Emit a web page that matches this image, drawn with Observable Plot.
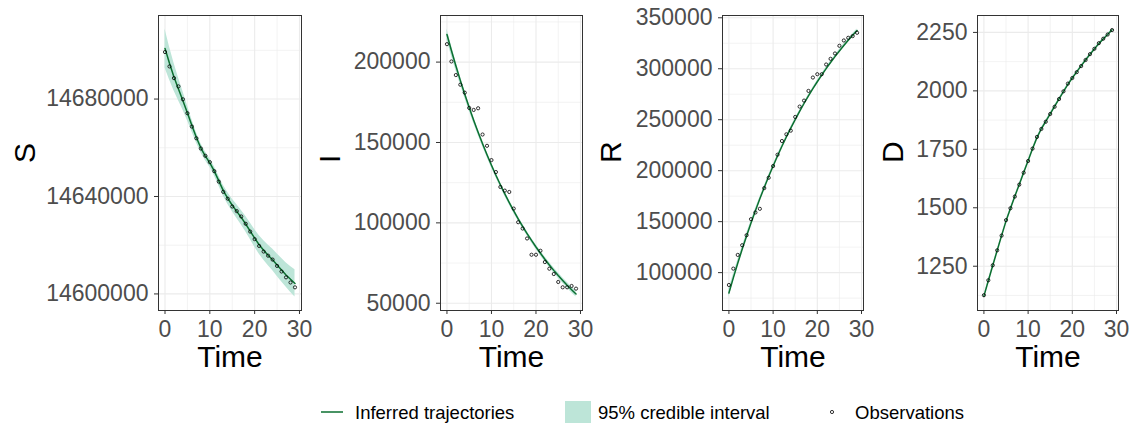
<!DOCTYPE html>
<html><head><meta charset="utf-8">
<script src="https://cdn.jsdelivr.net/npm/d3@7"></script>
<script src="https://cdn.jsdelivr.net/npm/@observablehq/plot@0.6"></script>
<style>
body{margin:0;background:#fff;font-family:"Liberation Sans",Arial,sans-serif;}
#chart{position:relative;width:1131px;height:423px;overflow:hidden;background:#fff;}
.panel{position:absolute;top:0;}
</style></head><body><div id="chart"></div>
<script>
// ---------- data ----------
const time = [0,1,2,3,4,5,6,7,8,9,10,11,12,13,14,15,16,17,18,19,20,21,22,23,24,25,26,27,28,29];
const xTicks = [0,10,20,30];
const xMinor = [5,15,25];

const S_obs  = [14699300,14693400,14688600,14685200,14679900,14674200,14668700,14663900,14659700,14656700,14654100,14650400,14646100,14641900,14639100,14635900,14634000,14631800,14628800,14625600,14622500,14619700,14617400,14615700,14614100,14611500,14609200,14606800,14604700,14602700];
const S_mean = [14700800,14694700,14689100,14684100,14679300,14674300,14669100,14664200,14659900,14656600,14653800,14650400,14646400,14642400,14639200,14636400,14633900,14631400,14628700,14625800,14622900,14620200,14617900,14615900,14614000,14611900,14609800,14607800,14606000,14604300];
const S_hi   = [14708800,14701500,14694800,14688800,14683100,14677400,14671600,14666300,14661800,14658400,14655600,14652300,14648400,14644600,14641600,14639000,14636700,14634400,14631900,14629200,14626500,14624000,14621900,14620100,14618400,14616500,14614600,14612800,14611300,14609900];
const S_lo   = [14692800,14687900,14683400,14679400,14675500,14671200,14666600,14662100,14658000,14654800,14652000,14648500,14644400,14640200,14636800,14633800,14631100,14628400,14625500,14622400,14619300,14616400,14613900,14611700,14609600,14607300,14605000,14602800,14600700,14598700];
const S_ticks = [14600000,14640000,14680000];
const S_minor = [14620000,14660000,14700000];

const I_obs  = [211160,200400,191940,185950,180990,171490,170250,171280,154960,147930,139050,131610,122320,120050,119220,108890,100400,96490,90290,80170,80170,82650,75620,71490,68190,63230,59920,59920,60740,59090];
const I_mean = [217150,207200,197700,188650,180000,171760,163890,156380,149210,142380,135850,129630,123690,118020,112610,107450,102530,97830,93350,89070,84990,81100,77380,73840,70450,67220,64150,61210,58400,55730];
const I_hi   = [220650,210400,200600,191250,182400,173960,165890,158180,150910,143980,137350,131030,125090,119420,114010,108850,103930,99230,94750,90470,86390,82600,78880,75440,72050,68920,65850,63010,60200,57630];
const I_lo   = [213650,204000,194800,186050,177600,169560,161890,154580,147510,140780,134350,128230,122290,116620,111210,106050,101130,96430,91950,87670,83590,79600,75880,72240,68850,65520,62450,59410,56600,53830];
const I_ticks = [50000,100000,150000,200000];
const I_minor = [75000,125000,175000,225000];

const R_obs  = [87880,103930,117370,126870,136700,152430,158990,162590,182910,193070,204540,215680,229110,235670,239280,252710,262870,268770,278270,291380,294650,294650,304160,309730,314970,322510,327750,330370,332010,335290];
const R_mean = [80000,94880,109160,122870,136020,148650,160770,172400,183570,194280,204570,214450,223920,233020,241750,250130,258170,265900,273310,280420,287250,293800,300090,306130,311920,317480,322820,327940,332860,337580];
const R_hi   = [84000,98380,112160,125470,138320,150650,162570,174000,185070,195680,205870,215750,225120,234220,242950,251330,259370,267100,274510,281720,288550,295100,301390,307530,313320,318880,324220,329440,334360,339080];
const R_lo   = [76000,91380,106160,120270,133720,146650,158970,170800,182070,192880,203270,213150,222720,231820,240550,248930,256970,264700,272110,279120,285950,292500,298790,304730,310520,316080,321420,326440,331360,336080];
const R_ticks = [100000,150000,200000,250000,300000,350000];
const R_minor = [75000,125000,175000,225000,275000,325000];

const D_obs  = [1126,1190,1254,1318,1381,1447,1498,1548,1599,1650,1700,1753,1803,1837,1868,1901,1932,1965,1998,2031,2055,2080,2106,2132,2157,2180,2204,2223,2241,2260];
const D_mean = [1122,1188,1253,1317,1381,1443,1497,1549,1600,1651,1701,1752,1800,1838,1870,1902,1934,1966,1997,2028,2055,2081,2107,2132,2156,2179,2202,2222,2241,2261];
const D_hi   = [1126,1192,1257,1321,1385,1447,1501,1553,1604,1655,1705,1756,1804,1842,1874,1906,1938,1970,2001,2032,2059,2085,2111,2136,2160,2183,2206,2226,2245,2265];
const D_lo   = [1118,1184,1249,1313,1377,1439,1493,1545,1596,1647,1697,1748,1796,1834,1866,1898,1930,1962,1993,2024,2051,2077,2103,2128,2152,2175,2198,2218,2237,2257];
const D_ticks = [1250,1500,1750,2000,2250];
const D_minor = [1125,1375,1625,1875,2125];

const legendLabels = ["Inferred trajectories","95% credible interval","Observations"];

// ---------- style ----------
const LINE = "#0b6f30";
const RIBBON = "#bde5d8";
const FONT = "'Liberation Sans', Arial, Helvetica, sans-serif";

function expand([a, b], f = 0.05) { const d = (b - a) * f; return [a - d, b + d]; }

function panel(cfg) {
  const rows = time.map((t, i) => ({t, obs: cfg.obs[i], mean: cfg.mean[i], lo: cfg.lo[i], hi: cfg.hi[i]}));
  const yDomain = expand(d3.extent([...cfg.obs, ...cfg.mean, ...cfg.lo, ...cfg.hi]));
  const xDomain = expand(d3.extent(time));
  const axisOpts = {tickSize: 4, tickPadding: 6, fontSize: 23, stroke: "#333333", fill: "#4d4d4d", label: null, tickFormat: d => String(d)};
  const p = Plot.plot({
    width: cfg.width, height: 380,
    marginLeft: cfg.marginLeft, marginRight: cfg.marginRight, marginTop: 15, marginBottom: 70,
    x: {domain: xDomain, axis: null},
    y: {domain: yDomain, axis: null},
    style: {fontFamily: FONT, background: "transparent", overflow: "visible"},
    marks: [
      Plot.gridX({ticks: xMinor, stroke: "#ebebeb", strokeOpacity: 1, strokeWidth: 0.6}),
      Plot.gridY({ticks: cfg.minor, stroke: "#ebebeb", strokeOpacity: 1, strokeWidth: 0.6}),
      Plot.gridX({ticks: xTicks, stroke: "#ebebeb", strokeOpacity: 1, strokeWidth: 1.1}),
      Plot.gridY({ticks: cfg.ticks, stroke: "#ebebeb", strokeOpacity: 1, strokeWidth: 1.1}),
      Plot.areaY(rows, {x: "t", y1: "lo", y2: "hi", fill: RIBBON}),
      Plot.lineY(rows, {x: "t", y: "mean", stroke: LINE, strokeWidth: 1.5}),
      Plot.dot(rows, {x: "t", y: "obs", r: 1.6, stroke: "#000", strokeWidth: 0.8, fill: "none"}),
      Plot.frame({stroke: "#333333", strokeWidth: 1}),
      Plot.axisX({...axisOpts, ticks: xTicks}),
      Plot.axisY({...axisOpts, ticks: cfg.ticks}),
      Plot.text(["Time"], {frameAnchor: "bottom", dy: 56, fontSize: 30, fill: "#000", text: d => d}),
      Plot.text([cfg.label], {frameAnchor: "left", dx: -cfg.titleOffset, rotate: -90, fontSize: 30, fill: "#000", text: d => d})
    ]
  });
  p.classList.add("panel");
  p.style.left = cfg.left + "px";
  return p;
}

const chart = document.getElementById("chart");
const panels = [
  {label: "S", obs: S_obs, mean: S_mean, lo: S_lo, hi: S_hi, ticks: S_ticks, minor: S_minor, left: 0,   width: 305, marginLeft: 158, marginRight: 4,  titleOffset: 133},
  {label: "I", obs: I_obs, mean: I_mean, lo: I_lo, hi: I_hi, ticks: I_ticks, minor: I_minor, left: 305, width: 285, marginLeft: 135, marginRight: 8,  titleOffset: 110},
  {label: "R", obs: R_obs, mean: R_mean, lo: R_lo, hi: R_hi, ticks: R_ticks, minor: R_minor, left: 590, width: 280, marginLeft: 132, marginRight: 7,  titleOffset: 111},
  {label: "D", obs: D_obs, mean: D_mean, lo: D_lo, hi: D_hi, ticks: D_ticks, minor: D_minor, left: 870, width: 261, marginLeft: 107, marginRight: 13, titleOffset: 84}
];
for (const c of panels) chart.appendChild(panel(c));

// ---------- legend ----------
function addLegend() {
  const ns = "http://www.w3.org/2000/svg";
  const svg = document.createElementNS(ns, "svg");
  svg.setAttribute("width", 1131); svg.setAttribute("height", 40);
  svg.style.position = "absolute"; svg.style.left = "0px"; svg.style.top = "392px";
  const mk = (tag, attrs) => { const e = document.createElementNS(ns, tag); for (const k in attrs) e.setAttribute(k, attrs[k]); svg.appendChild(e); return e; };
  mk("line", {x1: 321, x2: 343, y1: 20, y2: 20, stroke: LINE, "stroke-width": 1.5});
  mk("rect", {x: 565, y: 9, width: 26, height: 26, fill: RIBBON});
  mk("circle", {cx: 832, cy: 20, r: 1.6, fill: "none", stroke: "#000", "stroke-width": 0.8});
  const xs = [355, 598, 855];
  legendLabels.forEach((s, i) => {
    const t = mk("text", {x: xs[i], y: 26.5, "font-size": 18.5, "font-family": FONT, fill: "#000"});
    t.textContent = s;
  });
  chart.appendChild(svg);
}
addLegend();
</script></body></html>
